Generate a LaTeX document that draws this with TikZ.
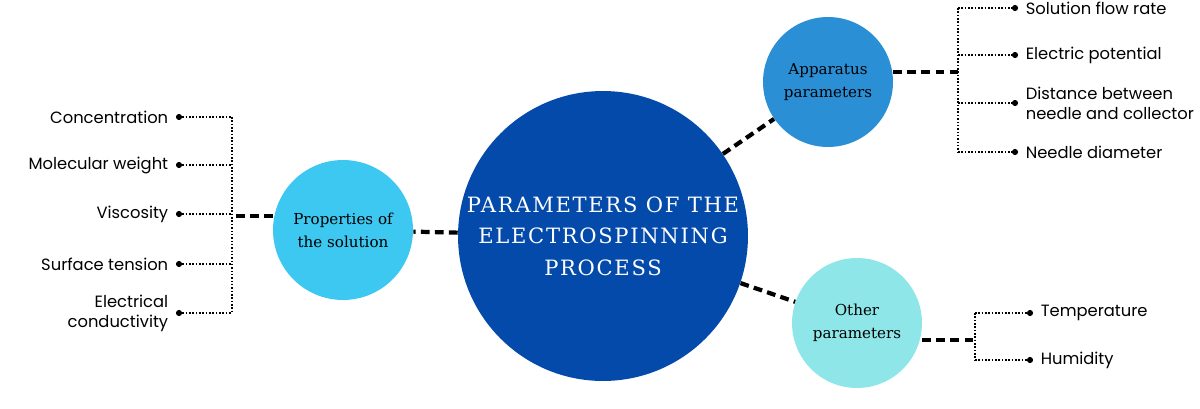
\documentclass[tikz,border=0pt]{standalone}
\usepackage{fontspec}
\setmainfont{Poppins}
\newfontfamily\slab[LetterSpace=8]{DejaVu Serif}
\newfontfamily\slabs{DejaVu Serif}
\usetikzlibrary{positioning}
\definecolor{cmain}{RGB}{4,74,170}
\definecolor{capp}{RGB}{43,143,214}
\definecolor{cprop}{RGB}{60,200,240}
\definecolor{cother}{RGB}{142,230,232}
\tikzset{
	hub/.style={circle, fill=#1, inner sep=0pt, align=center},
	lbl/.style={font=\fontsize{9.3}{11.5}\selectfont, inner sep=1pt},
	leaf/.style={circle, fill=black, inner sep=0pt, minimum size=3.5pt},
	thin dots/.style={densely dotted, line width=0.9pt},
	thick dash/.style={dashed, line width=2.4pt, dash pattern=on 5pt off 3pt},
}
\begin{document}
\begin{tikzpicture}[x=0.02cm, y=-0.02cm]
	\useasboundingbox (0,0) rectangle (1200,409);
	% hubs
	\node[hub=cmain, minimum size=5.8cm, text=white, font=\slab\fontsize{12}{18}\selectfont] (main) at (603,236) {PARAMETERS OF THE\\ELECTROSPINNING\\PROCESS};
	\node[hub=cprop, minimum size=2.8cm, font=\slabs\fontsize{8.6}{13}\selectfont] (prop) at (343,230) {Properties of\\the solution};
	\node[hub=capp, minimum size=2.6cm, font=\slabs\fontsize{8.6}{13}\selectfont] (app) at (828,82) {Apparatus\\parameters};
	\node[hub=cother, minimum size=2.6cm, font=\slabs\fontsize{8.6}{13}\selectfont] (oth) at (857,323) {Other\\parameters};
	% junctions
	\coordinate (jp) at (232,216);
	\coordinate (ja) at (958,72);
	\coordinate (jo) at (975,340);
	\draw[thick dash] (main) -- (prop);
	\draw[thick dash] (prop.west |- jp) -- (jp);
	\draw[thick dash] (main) -- (app);
	\draw[thick dash] (app.east |- ja) -- (ja);
	\draw[thick dash] (main) -- (oth);
	\draw[thick dash] (oth.east |- jo) -- (jo);
	% left leaves
	\foreach \y/\t [count=\i] in {117/Concentration, 165/Molecular weight, 214/Viscosity, 264/Surface tension, 313/{Electrical\\conductivity}} {
		\node[leaf] (pd\i) at (179,\y) {};
		\node[lbl, left=3pt of pd\i, align=right] {\t};
		\draw[thin dots] (pd\i) -- (232,\y);
	}
	\draw[thin dots] (232,117) -- (232,313);
	% apparatus leaves
	\foreach \y/\t [count=\i] in {8/Solution flow rate, 55/Electric potential, 103/{Distance between\\needle and collector}, 152/Needle diameter} {
		\node[leaf] (ad\i) at (1015,\y) {};
		\node[lbl, right=3pt of ad\i, align=left] {\t};
		\draw[thin dots] (958,\y) -- (ad\i);
	}
	\draw[thin dots] (958,8) -- (958,152);
	% other leaves
	\foreach \y/\t [count=\i] in {313/Temperature, 360/Humidity} {
		\node[leaf] (od\i) at (1030,\y) {};
		\node[lbl, right=3pt of od\i] {\t};
		\draw[thin dots] (975,\y) -- (od\i);
	}
	\draw[thin dots] (975,313) -- (975,360);
\end{tikzpicture}
\end{document}
